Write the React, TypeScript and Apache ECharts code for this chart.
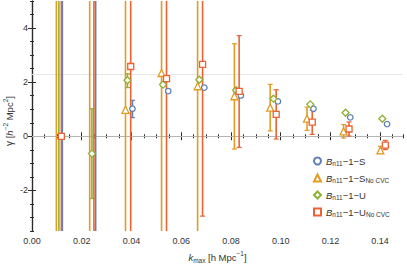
import React, { useEffect, useRef } from "react";
import * as echarts from "echarts";

// ---- data ----
const seriesKeys = ["S", "S_NoCVC", "U", "U_NoCVC"];
const colors = ["#5E81B5", "#E19C24", "#8FB032", "#EB6235"];
const symbols = ["circle", "triangle", "diamond", "rect"];
const symbolSizes = [5.5, 7, 7, 6];

// B_n11-1-S (blue circles)
const kS = [0.0122, 0.0256, 0.0404, 0.0548, 0.0693, 0.084, 0.0989, 0.1132, 0.128, 0.1428];
const yS = [8.0, 7.0, 1.02, 1.67, 1.8, 1.51, 1.29, 1.02, 0.7, 0.45];
const loS = [-20, -15, 0.69, 1.6, 1.74, 1.45, 1.24, 0.98, 0.66, 0.41];
const hiS = [30, 25, 1.33, 1.74, 1.86, 1.57, 1.34, 1.06, 0.74, 0.49];

// B_n11-1-S NoCVC (orange triangles)
const kSN = [0.0098, 0.0232, 0.0376, 0.0521, 0.0666, 0.0814, 0.0958, 0.1106, 0.1253, 0.1401];
const ySN = [6.5, 6.0, 0.98, 2.34, 1.85, 1.48, 1.06, 0.65, 0.18, -0.52];
const loSN = [-20, -20, -10, -10, -10, -0.47, 0.2, 0.22, -0.06, -0.64];
const hiSN = [30, 30, 12, 12, 12, 3.42, 1.92, 1.08, 0.43, -0.37];

// B_n11-1-U (green diamonds)
const kU = [0.0108, 0.0241, 0.0384, 0.0527, 0.0673, 0.0821, 0.0971, 0.1119, 0.1261, 0.1409];
const yU = [7.0, -0.64, 2.07, 1.91, 2.09, 1.7, 1.39, 1.18, 0.87, 0.65];
const loU = [-20, -2.3, 1.8, 1.84, 2.03, 1.64, 1.34, 1.14, 0.83, 0.61];
const hiU = [30, 1.02, 2.31, 1.98, 2.15, 1.76, 1.44, 1.22, 0.91, 0.69];

// B_n11-1-U NoCVC (red squares)
const kUN = [0.0118, 0.0249, 0.0397, 0.0541, 0.0686, 0.0833, 0.0982, 0.1127, 0.1275, 0.1421];
const yUN = [0.0, 7.5, 2.58, 2.13, 2.66, 1.66, 0.81, 0.52, 0.27, -0.33];
const loUN = [-20, -20, -10, -10, -2.95, -0.41, -0.1, 0.07, 0.01, -0.49];
const hiUN = [30, 30, 12, 12, 12, 3.72, 1.72, 0.96, 0.53, -0.15];

const xTickValues = [0, 0.02, 0.04, 0.06, 0.08, 0.1, 0.12, 0.14];
const yTickValues = [-2, 0, 2, 4];
const refLines = [0, 2.3];

const allK = [kS, kSN, kU, kUN];
const allY = [yS, ySN, yU, yUN];
const allLo = [loS, loSN, loU, loUN];
const allHi = [hiS, hiSN, hiU, hiUN];

const legendText: Record<string, string> = {
  S: "{b|B}{sub|n11}{t|−1−S}",
  S_NoCVC: "{b|B}{sub|n11}{t|−1−S}{sub|No CVC}",
  U: "{b|B}{sub|n11}{t|−1−U}",
  U_NoCVC: "{b|B}{sub|n11}{t|−1−U}{sub|No CVC}",
};

const FONT = "Liberation Sans, Arial, Helvetica, sans-serif";
const FRAME = "#2b2b2b";

export default function App() {
  const ref = useRef<HTMLDivElement>(null);

  useEffect(() => {
    if (!ref.current) return;
    const chart = echarts.init(ref.current, undefined, { renderer: "svg" });

    const errSeries = seriesKeys.map((key, si) => ({
      type: "custom",
      name: key + "_err",
      xAxisIndex: 0,
      yAxisIndex: 0,
      clip: true,
      silent: true,
      z: 2,
      encode: { x: 0, y: [1, 2] },
      data: allK[si].map((k, i) => [k, allLo[si][i], allHi[si][i]]),
      renderItem: (params: any, api: any) => {
        const x = api.value(0);
        const pLo = api.coord([x, api.value(1)]);
        const pHi = api.coord([x, api.value(2)]);
        const cw = 2.5;
        const st = { stroke: colors[si], lineWidth: 1.6 };
        return {
          type: "group",
          children: [
            { type: "line", shape: { x1: pLo[0], y1: pLo[1], x2: pHi[0], y2: pHi[1] }, style: st },
            { type: "line", shape: { x1: pLo[0] - cw, y1: pLo[1], x2: pLo[0] + cw, y2: pLo[1] }, style: { stroke: colors[si], lineWidth: 1.2 } },
            { type: "line", shape: { x1: pHi[0] - cw, y1: pHi[1], x2: pHi[0] + cw, y2: pHi[1] }, style: { stroke: colors[si], lineWidth: 1.2 } },
          ],
        };
      },
      ...(si === 0
        ? {
            markLine: {
              silent: true,
              symbol: "none",
              z: 1,
              label: { show: false },
              data: refLines.map((v, i) => ({
                yAxis: v,
                lineStyle: { color: i === 0 ? "#b5b5b5" : "#e6e6e6", width: 1, type: "solid" },
              })),
            },
          }
        : {}),
    }));

    const pointSeries = seriesKeys.map((key, si) => ({
      type: "scatter",
      name: key,
      xAxisIndex: 0,
      yAxisIndex: 0,
      clip: true,
      z: 3,
      symbol: symbols[si],
      symbolSize: symbolSizes[si],
      itemStyle: { color: "#ffffff", borderColor: colors[si], borderWidth: 1.3, opacity: 1 },
      emphasis: { disabled: true },
      data: allK[si].map((k, i) => [k, allY[si][i]]),
    }));

    const xCommon = {
      type: "value",
      min: 0,
      max: 0.1492,
      splitLine: { show: false },
      axisLine: { show: true, lineStyle: { color: FRAME, width: 1.2 } },
    };
    const yCommon = {
      type: "value",
      min: -3.5,
      max: 5,
      splitLine: { show: false },
      axisLine: { show: true, lineStyle: { color: FRAME, width: 1.2 } },
    };

    const option: any = {
      animation: false,
      textStyle: { fontFamily: FONT },
      grid: { left: 32, right: 4, top: 1, bottom: 34, containLabel: false, outerBoundsMode: "none" },
      legend: {
        orient: "vertical",
        left: 308,
        top: 151,
        itemWidth: 7,
        itemHeight: 7,
        itemGap: 6,
        selectedMode: false,
        data: seriesKeys,
        formatter: (name: string) => legendText[name],
        textStyle: {
          fontFamily: FONT,
          fontSize: 9.5,
          color: "#333",
          rich: {
            b: { fontStyle: "italic", fontSize: 9.5, lineHeight: 12, color: "#333" },
            t: { fontSize: 9.5, lineHeight: 12, color: "#333" },
            sub: { fontSize: 6.5, lineHeight: 5, verticalAlign: "bottom", color: "#333" },
          },
        },
      },
      xAxis: [
        {
          ...xCommon,
          position: "bottom",
          name: "{k|k}{sub|max} [h Mpc{sup|−1}]",
          nameLocation: "middle",
          nameGap: 19,
          nameMoveOverlap: false,
          nameTextStyle: {
            fontFamily: FONT,
            fontSize: 9.5,
            color: "#333",
            lineHeight: 14,
            rich: {
              k: { fontStyle: "italic", fontSize: 9.5, color: "#333", lineHeight: 14 },
              sub: { fontSize: 6.5, lineHeight: 5, verticalAlign: "bottom", color: "#333" },
              sup: { fontSize: 6.5, lineHeight: 5, verticalAlign: "top", color: "#333" },
            },
          },
          axisTick: { show: true, inside: true, length: 4, customValues: xTickValues, lineStyle: { color: FRAME } },
          axisLabel: {
            show: true,
            customValues: xTickValues,
            margin: 5,
            fontSize: 9,
            color: "#333",
            formatter: (v: number) => v.toFixed(2),
          },
        },
        {
          ...xCommon,
          position: "bottom",
          interval: 0.005,
          axisLine: { show: false },
          axisTick: { show: true, inside: true, length: 2, lineStyle: { color: FRAME } },
          axisLabel: { show: false },
        },
        {
          ...xCommon,
          position: "top",
          axisTick: { show: true, inside: true, length: 4, customValues: xTickValues, lineStyle: { color: FRAME } },
          axisLabel: { show: false },
        },
        {
          ...xCommon,
          position: "top",
          interval: 0.005,
          axisLine: { show: false },
          axisTick: { show: true, inside: true, length: 2, lineStyle: { color: FRAME } },
          axisLabel: { show: false },
        },
      ],
      yAxis: [
        {
          ...yCommon,
          position: "left",
          name: "{g|γ} [{i|h}{sup|−2} Mpc{sup|2}]",
          nameLocation: "middle",
          nameRotate: 90,
          nameGap: 16,
          nameMoveOverlap: false,
          nameTextStyle: {
            fontFamily: FONT,
            fontSize: 9.5,
            color: "#333",
            lineHeight: 14,
            padding: [0, 10, 0, 0],
            rich: {
              g: { fontSize: 10, color: "#333", lineHeight: 14 },
              i: { fontStyle: "italic", fontSize: 9.5, color: "#333", lineHeight: 14 },
              sup: { fontSize: 6.5, lineHeight: 5, verticalAlign: "top", color: "#333" },
            },
          },
          axisTick: { show: true, inside: true, length: 4, customValues: yTickValues, lineStyle: { color: FRAME } },
          axisLabel: { show: true, customValues: yTickValues, margin: 4, fontSize: 9, color: "#333" },
        },
        {
          ...yCommon,
          position: "left",
          interval: 0.5,
          axisLine: { show: false },
          axisTick: { show: true, inside: true, length: 2, lineStyle: { color: FRAME } },
          axisLabel: { show: false },
        },
        {
          ...yCommon,
          position: "right",
          axisTick: { show: true, inside: true, length: 4, customValues: yTickValues, lineStyle: { color: FRAME } },
          axisLabel: { show: false },
        },
        {
          ...yCommon,
          position: "right",
          interval: 0.5,
          axisLine: { show: false },
          axisTick: { show: true, inside: true, length: 2, lineStyle: { color: FRAME } },
          axisLabel: { show: false },
        },
      ],
      series: [...errSeries, ...pointSeries],
    };

    chart.setOption(option);
    return () => chart.dispose();
  }, []);

  return (
    <div
      ref={ref}
      style={{ position: "absolute", left: 0, top: 0, width: 407, height: 265, background: "#fff" }}
    />
  );
}
